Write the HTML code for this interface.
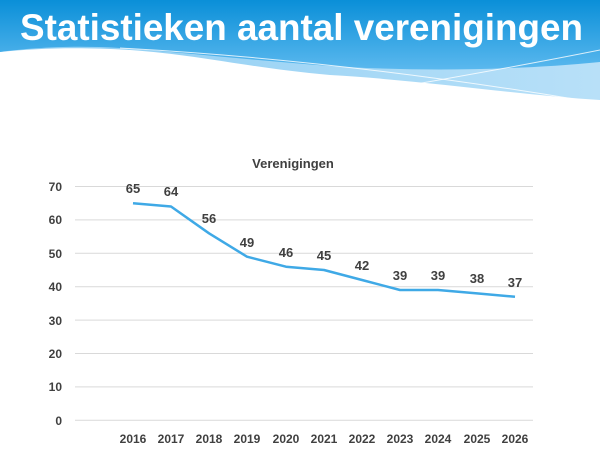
<!DOCTYPE html>
<html><head><meta charset="utf-8"><style>
html,body{margin:0;padding:0;background:#fff;width:600px;height:453px;overflow:hidden}
</style></head><body>
<svg width="600" height="453" xmlns="http://www.w3.org/2000/svg" font-family="Liberation Sans, sans-serif">
<defs>
<linearGradient id="g" x1="0" y1="0" x2="0" y2="1">
<stop offset="0" stop-color="#0a8fd8"/><stop offset="1" stop-color="#5ab8ee"/>
</linearGradient>
<linearGradient id="g2" x1="0" y1="0" x2="1" y2="0">
<stop offset="0" stop-color="#8ccdf3"/><stop offset="1" stop-color="#b8e0f8"/>
</linearGradient>
</defs>
<path d="M0,0 H600 V100 C520,95 420,80 330,75 C250,68 200,55 130,50 C80,47 40,48 0,52 Z" fill="url(#g2)"/>
<path d="M0,0 H600 V62 C520,70 420,72 330,66 C250,60 180,52 120,48 C70,45 30,48 0,52 Z" fill="url(#g)"/>
<path d="M120,48 C250,55 400,70 580,100" stroke="#fff" stroke-width="1" fill="none" opacity="0.8"/>
<path d="M370,92 C440,80 520,66 600,50" stroke="#fff" stroke-width="1" fill="none" opacity="0.8"/>
<text x="20" y="40" font-size="37" font-weight="bold" fill="#fff" textLength="563" lengthAdjust="spacingAndGlyphs">Statistieken aantal verenigingen</text>
<text x="293" y="168" font-size="13" font-weight="bold" fill="#404040" text-anchor="middle">Verenigingen</text>
<g stroke="#d9d9d9" stroke-width="1">
<line x1="75" x2="533" y1="186.5" y2="186.5"/><line x1="75" x2="533" y1="219.9" y2="219.9"/>
<line x1="75" x2="533" y1="253.3" y2="253.3"/><line x1="75" x2="533" y1="286.7" y2="286.7"/>
<line x1="75" x2="533" y1="320.1" y2="320.1"/><line x1="75" x2="533" y1="353.5" y2="353.5"/>
<line x1="75" x2="533" y1="386.9" y2="386.9"/><line x1="75" x2="533" y1="420.3" y2="420.3"/>
</g>
<g font-size="12" font-weight="bold" fill="#404040" text-anchor="end">
<text x="62" y="191">70</text><text x="62" y="224">60</text><text x="62" y="258">50</text>
<text x="62" y="291">40</text><text x="62" y="325">30</text><text x="62" y="358">20</text>
<text x="62" y="391">10</text><text x="62" y="425">0</text>
</g>
<g font-size="12" font-weight="bold" fill="#404040" text-anchor="middle">
<text x="133" y="443">2016</text><text x="171" y="443">2017</text><text x="209" y="443">2018</text>
<text x="247" y="443">2019</text><text x="286" y="443">2020</text><text x="324" y="443">2021</text>
<text x="362" y="443">2022</text><text x="400" y="443">2023</text><text x="438" y="443">2024</text>
<text x="477" y="443">2025</text><text x="515" y="443">2026</text>
</g>
<polyline fill="none" stroke="#3fa9e6" stroke-width="2.5" stroke-linejoin="round"
points="133,203.2 171,206.5 209,233.3 247,256.7 286,266.7 324,270 362,280 400,290 438,290 477,293.4 515,296.8"/>
<g font-size="13" font-weight="bold" fill="#404040" text-anchor="middle">
<text x="133" y="193">65</text><text x="171" y="196">64</text><text x="209" y="223">56</text>
<text x="247" y="247">49</text><text x="286" y="257">46</text><text x="324" y="260">45</text>
<text x="362" y="270">42</text><text x="400" y="280">39</text><text x="438" y="280">39</text>
<text x="477" y="283">38</text><text x="515" y="287">37</text>
</g>
</svg>
</body></html>
